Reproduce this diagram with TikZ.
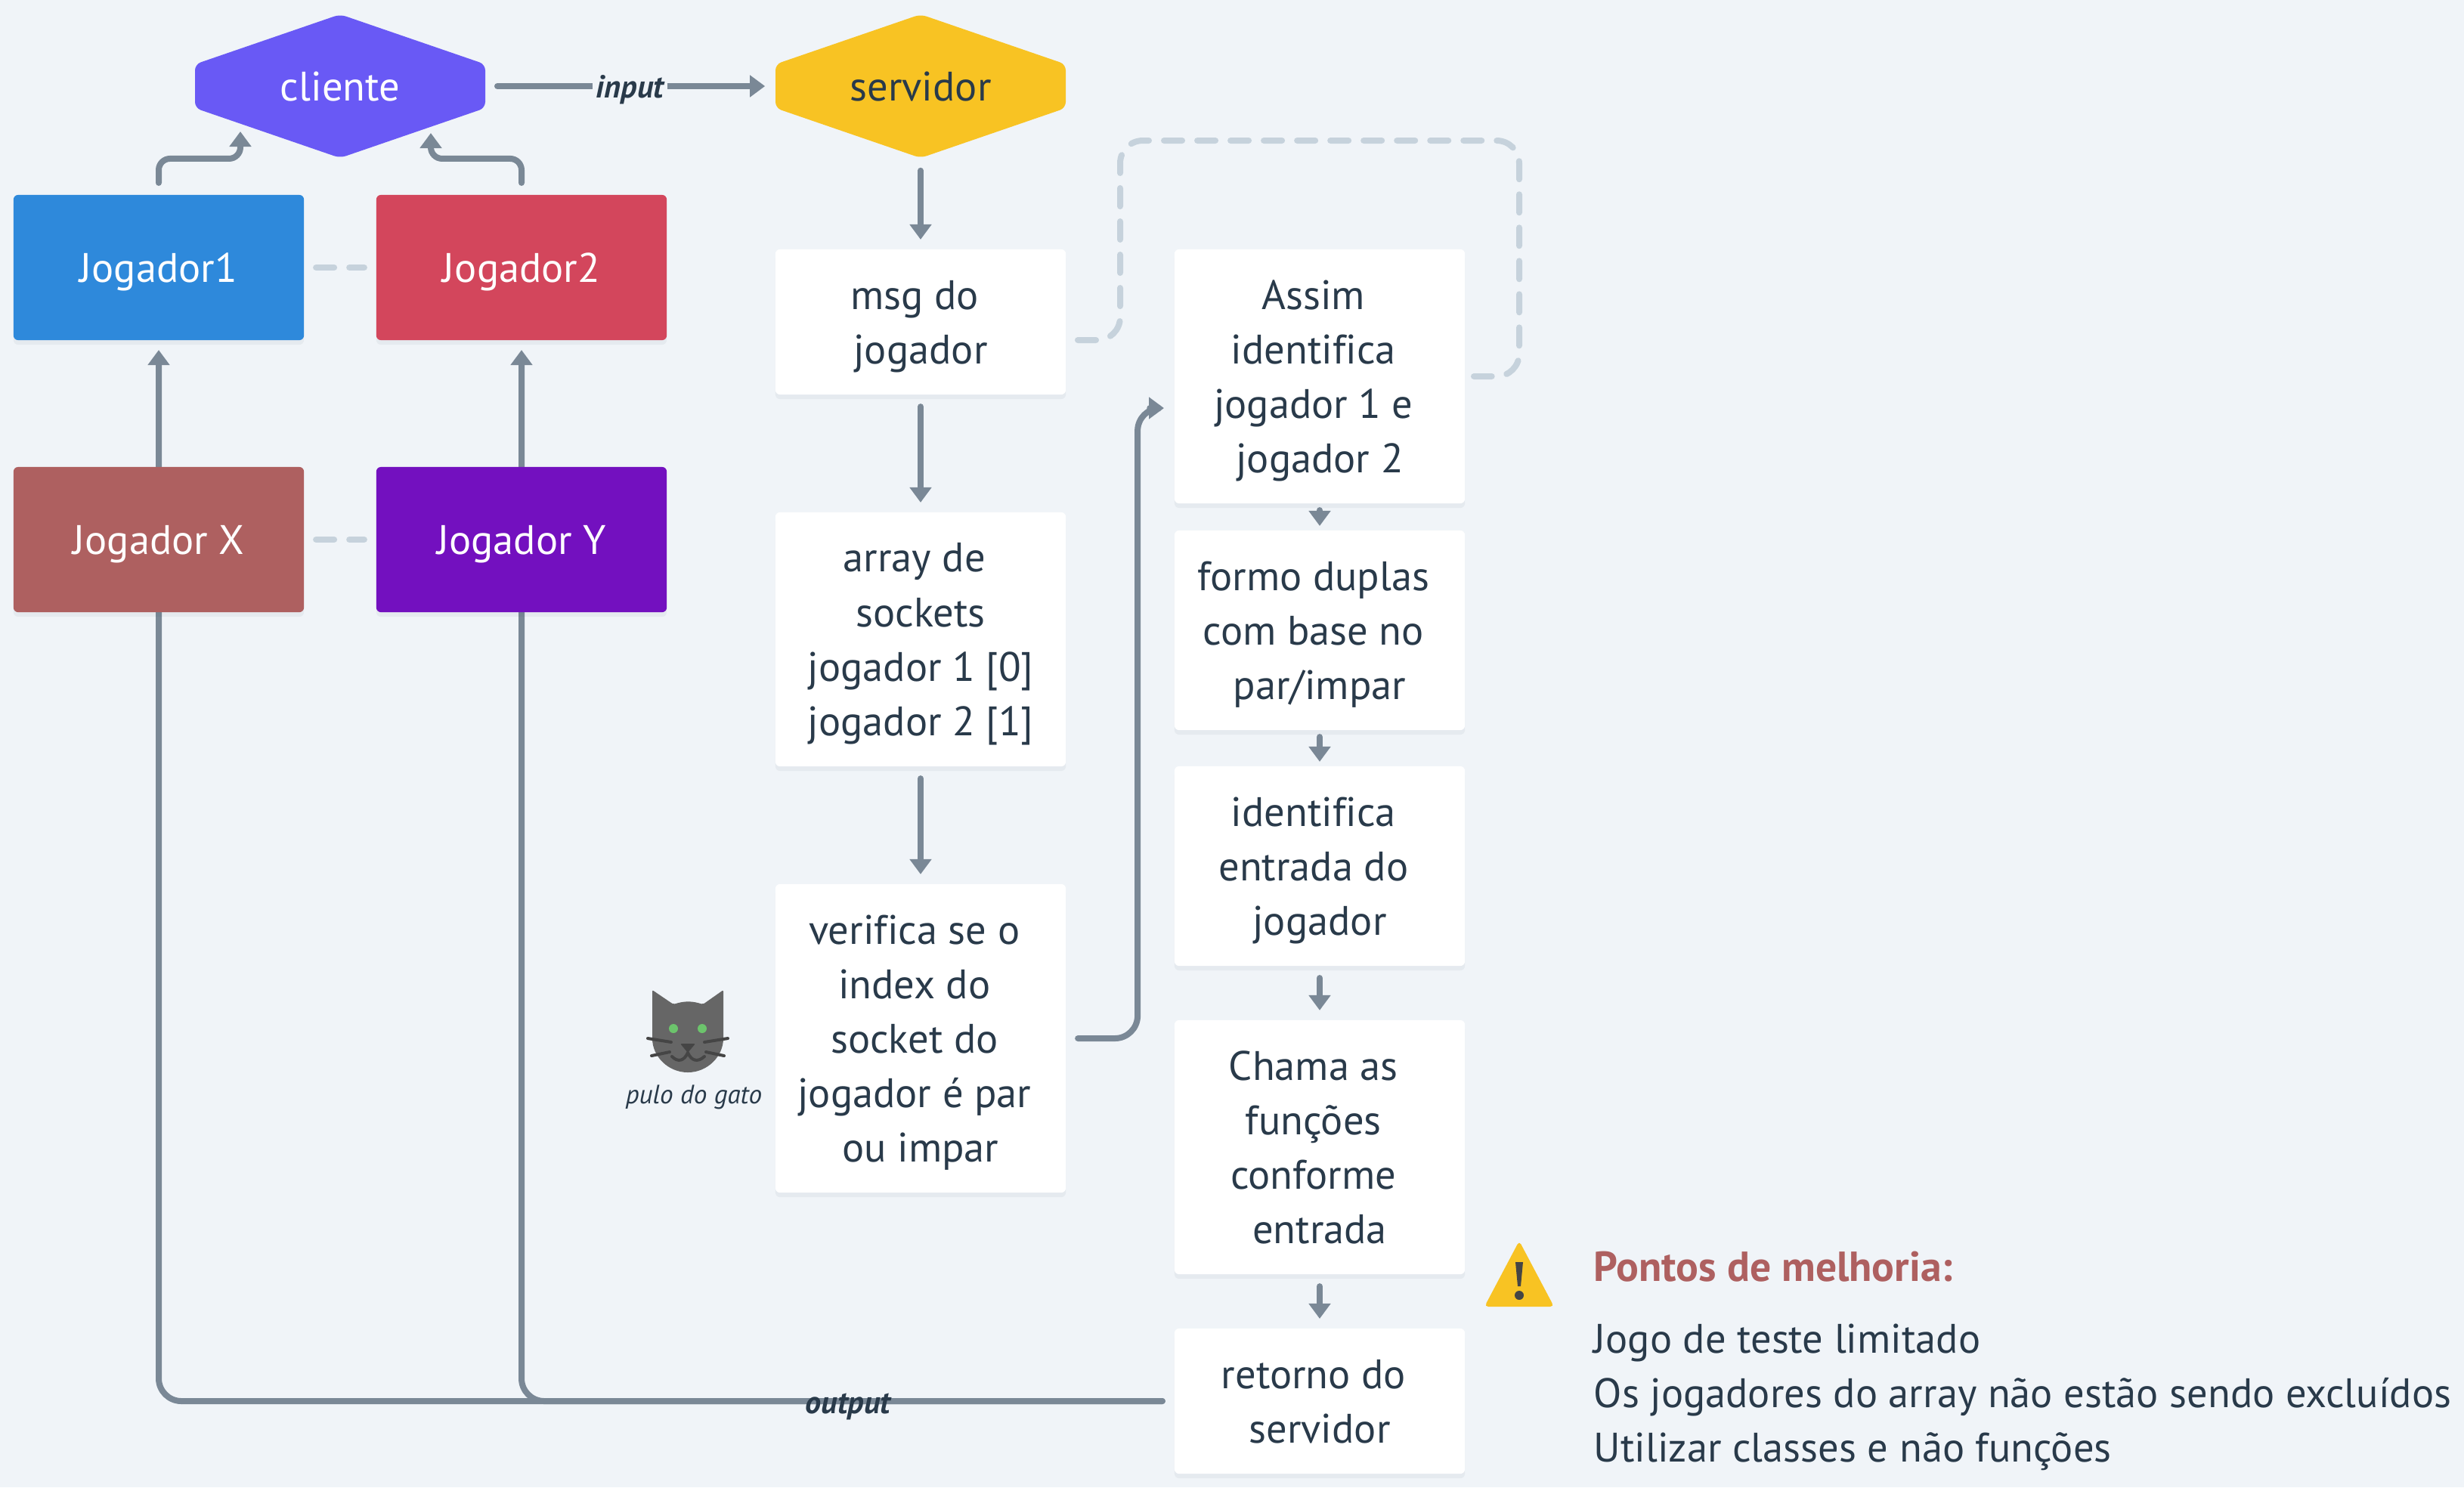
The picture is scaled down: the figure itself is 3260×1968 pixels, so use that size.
\documentclass[tikz,border=0pt]{standalone}
\usepackage{fontspec}
\setmainfont[Ligatures=NoCommon]{PT Sans}
\usetikzlibrary{arrows.meta, shadows}
\definecolor{fundo}{HTML}{F0F4F8}
\definecolor{tinta}{HTML}{293A4A}
\definecolor{linha}{HTML}{7A8896}
\definecolor{tracos}{HTML}{C6D2DC}
\definecolor{roxo}{HTML}{6959F5}
\definecolor{ouro}{HTML}{F8C323}
\definecolor{azul}{HTML}{2E89DB}
\definecolor{rubi}{HTML}{D3465C}
\definecolor{tijolo}{HTML}{AE6060}
\definecolor{violeta}{HTML}{7310BF}
\definecolor{gato}{HTML}{666666}
\definecolor{bigode}{HTML}{454545}
\definecolor{olho}{HTML}{6CC46C}
\newcommand{\tsp}{\kern.3em}

\begin{document}
\begin{tikzpicture}[x=0.01cm, y=-0.01cm,
    corpo/.style={font=\fontsize{15.5}{20.5}\selectfont, text depth=-0.7pt},
    caixa/.style={corpo, rectangle, rounded corners=0.6mm, minimum width=3.84cm, fill=white, text=tinta,
        align=center, inner sep=0pt, outer sep=0pt,
        drop shadow={shadow xshift=0mm, shadow yshift=-0.6mm, opacity=0.05, fill=tinta}},
    jogador/.style={caixa, minimum height=1.92cm, text=white},
    flow/.style={line width=0.8mm, color=linha, line cap=round, -{Triangle[length=2mm,width=2.8mm]}},
    longe/.style={shorten <=1.6mm, shorten >=1.3mm},
    perto/.style={shorten <=0.9mm, shorten >=0.6mm},
    tracejado/.style={line width=0.8mm, color=tracos, line cap=round, dash pattern=on 2.4mm off 2mm, rounded corners=3mm},
    rotulo/.style={font=\fontsize{12}{13}\selectfont\bfseries\itshape, text=tinta, inner sep=0pt}]
    \fill[fundo, use as bounding box] (0,0) rectangle (3260,1968);

    % hexagonos
    \fill[roxo, rounded corners=0.8mm] (450,19) -- (642,85) -- (642,143) -- (450,209) -- (258,143) -- (258,85) -- cycle;
    \fill[ouro, rounded corners=0.8mm] (1218,19) -- (1410,85) -- (1410,143) -- (1218,209) -- (1026,143) -- (1026,85) -- cycle;
    \node[corpo, text=white, minimum width=3.84cm, minimum height=1.9cm, inner sep=0pt] (cliente) at (450,114) {cliente};
    \node[corpo, text=tinta, minimum width=3.84cm, minimum height=1.9cm, inner sep=0pt] (servidor) at (1218,114) {servidor};

    % jogadores
    \node[jogador, fill=azul] (jog1) at (210,354) {Jogador1};
    \node[jogador, fill=rubi] (jog2) at (690,354) {Jogador2};

    % caixas do servidor
    \node[caixa, minimum height=1.92cm] (msg) at (1218,426) {msg do\tsp\\jogador};
    \node[caixa, minimum height=3.36cm] (lista) at (1218,846) {array de\tsp\\sockets\\jogador 1 [0]\\jogador 2 [1]};
    \node[caixa, minimum height=4.08cm] (verifica) at (1218,1374) {verifica se o\tsp\\index do\tsp\\socket do\tsp\\jogador é par\tsp\\ou impar};
    \node[caixa, minimum height=3.36cm] (assim) at (1746,498) {Assim\tsp\\identifica\tsp\\jogador 1 e\tsp\\jogador 2};
    \node[caixa, minimum height=2.64cm] (formo) at (1746,834) {formo duplas\tsp\\com base no\tsp\\par/impar};
    \node[caixa, minimum height=2.64cm] (entrada) at (1746,1146) {identifica\tsp\\entrada do\tsp\\jogador};
    \node[caixa, minimum height=3.36cm] (chama) at (1746,1518) {Chama as\tsp\\funções\tsp\\conforme\tsp\\entrada};
    \node[caixa, minimum height=1.92cm] (retorno) at (1746,1854) {retorno do\tsp\\servidor};

    % saida passa por tras de Jogador X e Y
    \draw[flow, longe, rounded corners=3mm] (retorno.west) -| (jog1.south);
    \draw[flow, longe, rounded corners=3mm] (retorno.west) -| (jog2.south);
    \node[jogador, fill=tijolo] (jogX) at (210,714) {Jogador X};
    \node[jogador, fill=violeta] (jogY) at (690,714) {Jogador Y};
    \node[rotulo] (saida) at (1122,1861) {output};

    \coordinate (cliA) at (318,174);
    \coordinate (cliB) at (570,176);
    \coordinate (assimIn) at (1540,540);
    \coordinate (loopIni) at (1426,450);
    \coordinate (loopFim) at (1950,498);

    \draw[flow, longe] (cliente) ++(192,0) -- (servidor.west) node[midway, fill=fundo, rotulo, minimum width=0.99cm, minimum height=0.5cm, yshift=-0.5mm] (entradaRot) {input};
    \draw[flow, shorten <=1.6mm, rounded corners=1.5mm] (jog1.north) -- ++(0,-48) -| (cliA);
    \draw[flow, shorten <=1.6mm, rounded corners=1.5mm] (jog2.north) -- ++(0,-48) -| (cliB);
    \draw[flow, longe] (servidor.south) -- (msg.north);
    \draw[flow, longe] (msg.south) -- (lista.north);
    \draw[flow, longe] (lista.south) -- (verifica.north);
    \draw[flow, shorten <=1.6mm, rounded corners=3mm] (verifica.east) -- ++(95,0) |- (assimIn);
    \draw[flow, perto] (assim.south) -- (formo.north);
    \draw[flow, perto] (formo.south) -- (entrada.north);
    \draw[flow, longe] (entrada.south) -- (chama.north);
    \draw[flow, longe] (chama.south) -- (retorno.north);

    \draw[tracejado, shorten <=1.6mm, shorten >=1.6mm] (jog1.east) -- (jog2.west);
    \draw[tracejado, shorten <=1.6mm, shorten >=1.6mm] (jogX.east) -- (jogY.west);
    \draw[tracejado] (loopIni) -- (1482,450) -- (1482,186) -- (2010,186) -- (2010,498) -- (loopFim);

    % gato
    \fill[gato, rounded corners=0.2mm] (863,1310) -- (891,1329) to[bend left=18] (930,1329) -- (957,1310) -- (957,1372)
        arc[start angle=0, end angle=180, radius=47] -- cycle;
    \fill[olho] (891,1361) circle (0.06cm) (929,1361) circle (0.06cm);
    \fill[bigode, rounded corners=0.2mm] (900,1381) -- (920,1381) -- (910,1393) -- cycle;
    \draw[bigode, line width=0.4mm, line cap=round] (857,1374) -- (888,1379) (963,1374) -- (932,1379)
        (862,1397) -- (886,1392) (958,1397) -- (934,1392);
    \draw[bigode, line width=0.4mm, line cap=round] (889,1398) .. controls (897,1406) and (905,1404) .. (910,1393)
        .. controls (915,1404) and (923,1406) .. (932,1398);
    \node[font=\fontsize{10}{11}\selectfont\itshape, text=tinta, inner sep=0pt] (pulo) at (918,1452) {pulo do gato};

    % aviso
    \fill[ouro, rounded corners=0.5mm] (2010,1642) -- (2056,1729) -- (1964,1729) -- cycle;
    \fill[bigode] (2005,1670) -- (2015,1670) -- (2012,1702) -- (2008,1702) -- cycle;
    \fill[bigode] (2010,1714) circle (0.06cm);
    \node[font=\fontsize{15.8}{20.5}\selectfont\bfseries, text=tijolo, anchor=west, inner sep=0pt] (pontos) at (2108,1676) {Pontos de melhoria:};
    \node[corpo, text=tinta, anchor=west, align=left, inner sep=0pt] (melhoria) at (2108,1843) {Jogo de teste limitado\\Os jogadores do array não estão sendo excluídos\\Utilizar classes e não funções};
\end{tikzpicture}
\end{document}
